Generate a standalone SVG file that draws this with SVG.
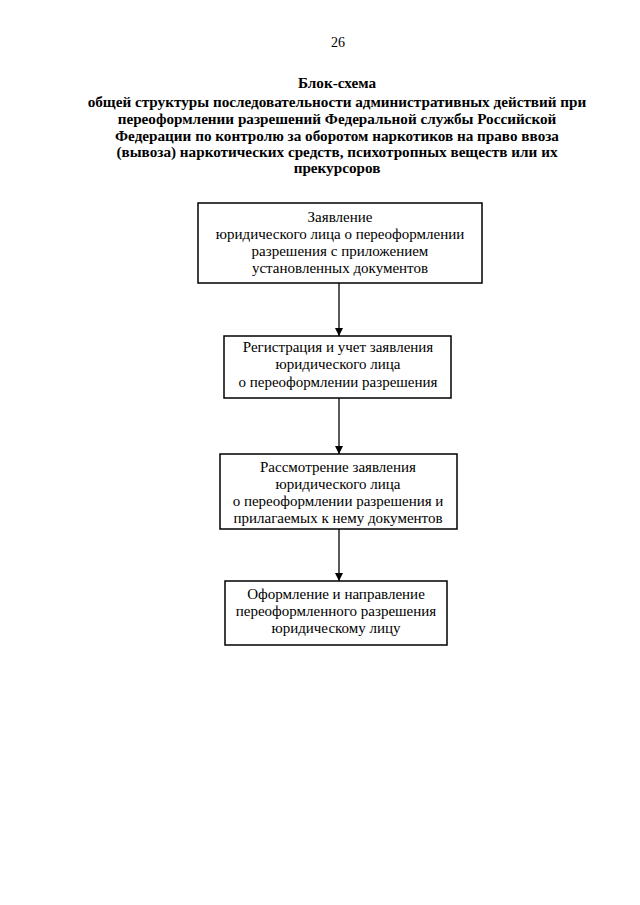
<svg xmlns="http://www.w3.org/2000/svg" width="640" height="905" viewBox="0 0 640 905">
<style>
.t{font-family:"Liberation Serif","Times New Roman",serif;font-size:15px;fill:#000;text-anchor:middle}
.h{font-family:"Liberation Serif","Times New Roman",serif;font-size:15.2px;font-weight:bold;fill:#000;text-anchor:middle}
.b{fill:#fff;stroke:#000;stroke-width:1.5}
.c{stroke:#000;stroke-width:1.3;fill:none}
</style>
<defs>
<marker id="ar" markerWidth="8" markerHeight="10" refX="8" refY="5" orient="auto" markerUnits="userSpaceOnUse">
<path d="M0,1 L8,5 L0,9 Z" fill="#000"/>
</marker>
</defs>
<rect width="640" height="905" fill="#fff"/>
<text class="t" x="338" y="47" style="font-size:14px">26</text>
<g id="title">
<text class="h" x="337" y="88">Блок-схема</text>
<text class="h" x="337" y="107">общей структуры последовательности административных действий при</text>
<text class="h" x="337" y="124">переоформлении разрешений Федеральной службы Российской</text>
<text class="h" x="337" y="141">Федерации по контролю за оборотом наркотиков на право ввоза</text>
<text class="h" x="337" y="157">(вывоза) наркотических средств, психотропных веществ или их</text>
<text class="h" x="337" y="173">прекурсоров</text>
</g>
<g id="connectors">
<line class="c" x1="339" y1="283" x2="339" y2="336" marker-end="url(#ar)"/>
<line class="c" x1="339" y1="398" x2="339" y2="454" marker-end="url(#ar)"/>
<line class="c" x1="339" y1="529" x2="339" y2="581" marker-end="url(#ar)"/>
</g>
<g id="n1">
<rect class="b" x="198" y="203" width="284" height="80"/>
<text class="t" x="340" y="222">Заявление</text>
<text class="t" x="340" y="239">юридического лица о переоформлении</text>
<text class="t" x="340" y="256">разрешения с приложением</text>
<text class="t" x="340" y="273">установленных документов</text>
</g>
<g id="n2">
<rect class="b" x="224" y="336" width="227" height="62"/>
<text class="t" x="338" y="352">Регистрация и учет заявления</text>
<text class="t" x="338" y="369">юридического лица</text>
<text class="t" x="338" y="387">о переоформлении разрешения</text>
</g>
<g id="n3">
<rect class="b" x="220" y="454" width="237" height="75"/>
<text class="t" x="338" y="472">Рассмотрение заявления</text>
<text class="t" x="338" y="489">юридического лица</text>
<text class="t" x="338" y="506">о переоформлении разрешения и</text>
<text class="t" x="338" y="523">прилагаемых к нему документов</text>
</g>
<g id="n4">
<rect class="b" x="225" y="581" width="222" height="64"/>
<text class="t" x="336" y="599">Оформление и направление</text>
<text class="t" x="336" y="616">переоформленного разрешения</text>
<text class="t" x="336" y="633">юридическому лицу</text>
</g>
</svg>
